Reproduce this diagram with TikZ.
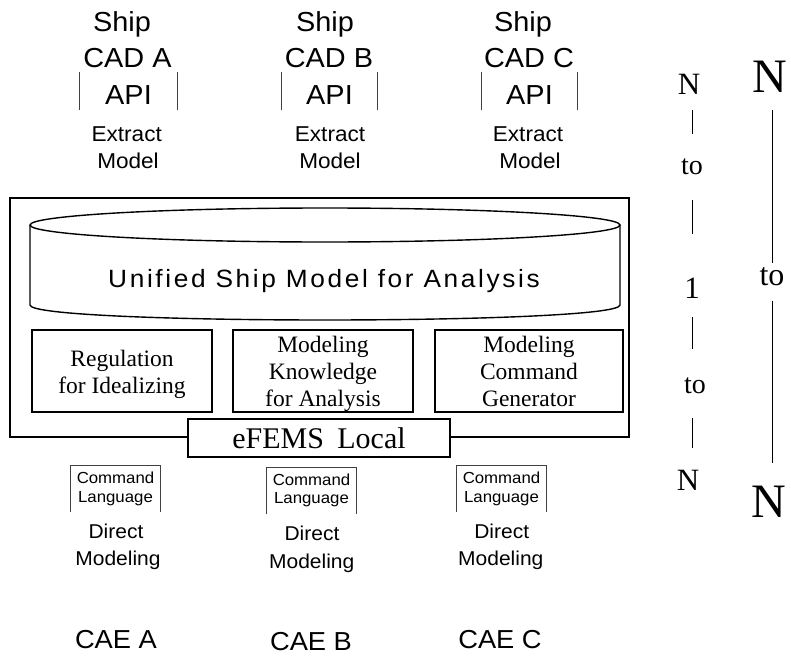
\documentclass[tikz,border=0pt]{standalone}
\usepackage{fontspec}
\setmainfont{Liberation Serif}
\newfontfamily\gul[FakeStretch=1.05]{Liberation Sans}
\newfontfamily\gulwide[FakeStretch=1.05,LetterSpace=10.5]{Liberation Sans}
\tikzset{
  lbl/.style={inner sep=0pt, anchor=base},
  capbig/.style={lbl, font=\gul\fontsize{27.5}{30}\selectfont},
  capmid/.style={lbl, font=\gul\fontsize{21.5}{24}\selectfont},
  capdir/.style={lbl, font=\gul\fontsize{20}{24}\selectfont},
  capcae/.style={lbl, font=\gul\fontsize{26}{30}\selectfont},
  cmdbox/.style={inner sep=0pt, align=center, minimum width=89pt, minimum height=46pt,
                 font=\gul\fontsize{16}{18.5}\selectfont},
  apibox/.style={capbig, text height=33pt, text depth=5pt},
  bracket/.style={line width=0.8pt, black!75},
  frame/.style={line width=2pt},
  cyl/.style={line width=1.4pt},
  ibox/.style={draw, line width=1.6pt, inner sep=0pt, align=center, minimum height=82pt,
               font=\fontsize{23.5}{27}\selectfont},
  efemsbox/.style={draw, fill=white, line width=2.5pt, inner sep=0pt, minimum width=262pt,
                   minimum height=38pt, font=\fontsize{30}{34}\selectfont},
  ser30/.style={lbl, font=\fontsize{31}{34}\selectfont},
  ser26/.style={lbl, font=\fontsize{28}{30}\selectfont},
  serbig/.style={lbl, font=\fontsize{48}{52}\selectfont},
  ser32/.style={lbl, font=\fontsize{32}{36}\selectfont},
  rule/.style={line width=0.9pt},
}
\newcommand\strutA{\rule{0pt}{24pt}}
\newcommand\strutB{\rule{0pt}{23pt}}
\begin{document}
\begin{tikzpicture}[x=1pt,y=-1pt]
\useasboundingbox (0,0) rectangle (791,655);

% ---- ship CAD systems ----
\node[capbig] (shipA) at (122,32) {Ship};
\node[capbig] (cadA) at (127.5,68) {CAD A};
\node[apibox, minimum width=97pt] (apiA) at (128.5,105) {API};
\node[capmid] (extA) at (126.7,142) {Extract};
\node[capmid] (modA) at (128,168) {Model};

\node[capbig] (shipB) at (325,32) {Ship};
\node[capbig] (cadB) at (329,68) {CAD B};
\node[apibox, minimum width=95pt] (apiB) at (329.5,105) {API};
\node[capmid] (extB) at (330,142) {Extract};
\node[capmid] (modB) at (330,168) {Model};

\node[capbig] (shipC) at (523,32) {Ship};
\node[capbig] (cadC) at (529,68) {CAD C};
\node[apibox, minimum width=95pt] (apiC) at (529.5,105) {API};
\node[capmid] (extC) at (528,142) {Extract};
\node[capmid] (modC) at (530,168) {Model};

\foreach \a in {apiA,apiB,apiC}{
  \draw[bracket] (\a.north west) -- (\a.south west) (\a.north east) -- (\a.south east);
}

% ---- eFEMS frame ----
\draw[frame] (10,198) rectangle (629,437);

% unified model store
\draw[cyl] (325,225) ellipse [x radius=295, y radius=17];
\draw[cyl] (30,225) -- (30,305) .. controls (30,325) and (620,325) .. (620,305) -- (620,225);
\node[lbl, font=\gulwide\fontsize{25}{30}\selectfont] (usm) at (324,287) {Unified Ship Model for Analysis};

\node[ibox, minimum width=180pt] (reg) at (122,371) {\strutA Regulation\\for Idealizing};
\node[ibox, minimum width=180pt] (mka) at (323,371) {\strutB Modeling\\Knowledge\\for Analysis};
\node[ibox, minimum width=188pt] (mcg) at (529,371) {Modeling\\Command\\Generator};

\node[efemsbox] (efems) at (319,438) {eFEMS\hspace{0.45em}Local};

% ---- CAE systems ----
\node[cmdbox] (cmdA) at (115.5,489) {Command\\Language};
\node[cmdbox] (cmdB) at (311.5,490.5) {Command\\Language};
\node[cmdbox] (cmdC) at (501.5,489) {Command\\Language};
\foreach \c in {cmdA,cmdB,cmdC}{
  \draw[bracket] (\c.south west) -- (\c.north west) -- (\c.north east) -- (\c.south east);
}

\node[capdir] (dirA) at (116,538) {Direct};
\node[capdir] (dmA) at (118,565) {Modeling};
\node[capdir] (dirB) at (312,540) {Direct};
\node[capdir] (dmB) at (311.7,568) {Modeling};
\node[capdir] (dirC) at (501.7,538) {Direct};
\node[capdir] (dmC) at (500.8,565) {Modeling};

\node[capcae] (caeA) at (116,648) {CAE A};
\node[capcae] (caeB) at (311,650) {CAE B};
\node[capcae] (caeC) at (500,648) {CAE C};

% ---- N to 1 to N ----
\node[ser30] (nL1) at (689,95) {N};
\node[ser26] (toL1) at (692,175) {to};
\node[ser30] (oneL) at (692,298) {1};
\node[ser26] (toL2) at (695,393) {to};
\node[ser30] (nL2) at (688,490) {N};
\draw[rule, shorten <=15pt, shorten >=25pt] (nL1.south -| toL1.north) -- (toL1.north);
\draw[rule, shorten <=25pt, shorten >=43pt] (toL1.south) -- (oneL.north -| toL1.south);
\draw[rule, shorten <=19pt, shorten >=28pt] (oneL.south) -- (toL2.north -| oneL.south);
\draw[rule, shorten <=25pt, shorten >=22pt] (toL2.south -| oneL.south) -- (nL2.north -| oneL.south);

% ---- N to N ----
\node[serbig] (nR1) at (770,93) {N};
\node[ser32] (toR) at (772,285) {to};
\node[serbig] (nR2) at (769,517) {N};
\draw[rule, shorten <=17pt, shorten >=3.5pt] (nR1.south -| toR.north) -- (toR.north);
\draw[rule, shorten <=15pt, shorten >=22pt] (toR.south) -- (nR2.north -| toR.south);
\end{tikzpicture}
\end{document}
